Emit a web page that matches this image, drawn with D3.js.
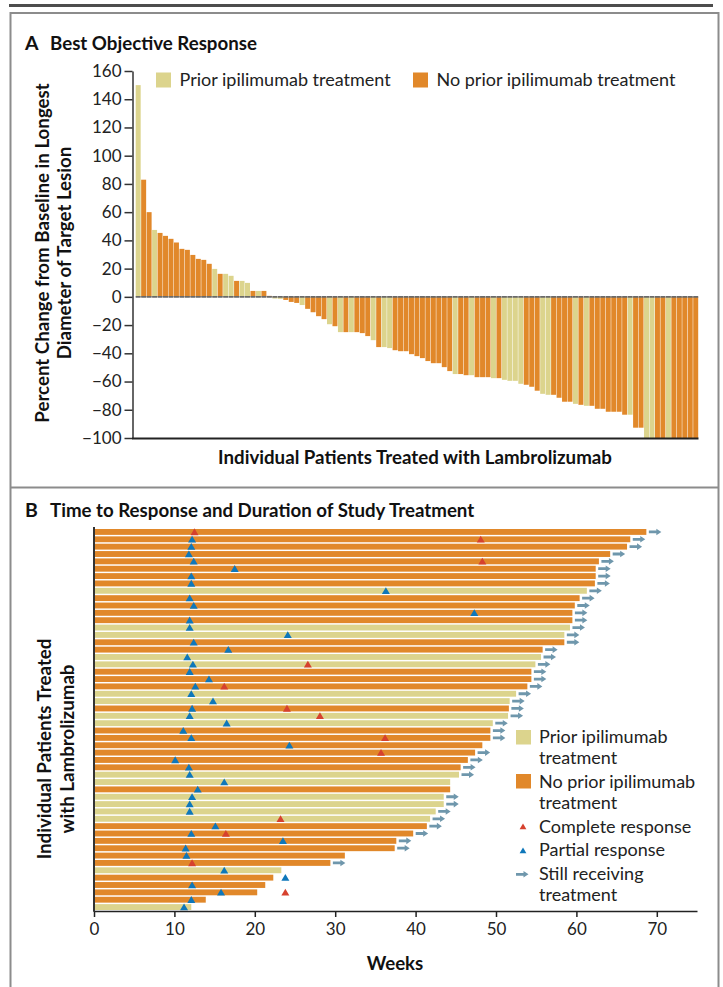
<!DOCTYPE html>
<html><head><meta charset="utf-8">
<script src="https://cdn.jsdelivr.net/npm/d3@7"></script>
<style>
body{margin:0;background:#fff;}
svg{display:block;font-family:Lato,'Open Sans',sans-serif;}
</style></head><body>
<svg id="c" width="723" height="987"></svg>
<script>
// ---------- Panel A data ----------
const responseValues = [150,83,60,47.4,45.3,43.2,41.1,38.5,34,33.3,
 29.7,26.9,26.2,23.4,19.8,16.3,16.3,14.9,11.3,11.3,
 9.9,4.2,4.2,4.2,0.7,-1.2,-1.4,-2.2,-3.6,-4.3,
 -5.8,-8.5,-10.9,-13.7,-15.8,-19.4,-20.8,-25,-25,-25,
 -25,-25.7,-27.8,-30.7,-35.6,-35.6,-36.3,-37.8,-38.5,-38.5,
 -40.6,-42,-43.4,-45.5,-47,-47,-49.8,-52.6,-54.7,-54.7,
 -55.5,-55.5,-56.9,-56.9,-56.9,-57.6,-57.6,-58.8,-59.5,-59.5,
 -61.6,-62.3,-63.7,-66.5,-68.7,-69.4,-69.4,-71.5,-74.3,-74.3,
 -75.8,-76.5,-77.2,-77.2,-79.3,-79.3,-81.4,-81.4,-81.4,-83.5,
 -83.5,-92.7,-92.7,-100,-100,-100,-100,-100,-100,-100,
 -100,-100,-100];
// Y = prior ipilimumab, O = no prior ipilimumab
const responseGroup = ("YOOYOOOOOO"+"OOOOYOYYOY"+"YOYOOYYOOO"+"YOOOOYOYOY"+"OOOYOYYOOO"+
  "OOOOOOOOYO"+"OYOOOYOYYY"+"YOOOYYOOOO"+"YOYOOOOOOO"+"YOOYYOOYOO"+"OOO").split("");
const yTicksA = [-100,-80,-60,-40,-20,0,20,40,60,80,100,120,140,160];

// ---------- Panel B data ----------
const treatmentWeeks = [68.7,66.7,66.3,64.2,62.8,62.4,62.4,62.3,61.3,60.4,
 59.8,59.5,59.5,59.2,58.5,58.5,55.8,55.6,54.9,54.4,
 54.4,53.9,52.5,51.7,51.6,51.5,49.6,49.3,49.3,48.3,
 47.4,46.5,45.6,45.4,44.3,44.3,43.5,43.5,42.5,41.8,
 41.4,39.7,37.6,37.4,31.2,29.4,23.3,22.3,21.3,20.3,
 13.9,12.1];
const patientGroup = ("OOOOOOOOYO"+"OOOYYOOYYO"+"OOYYOYYOOO"+"OOOYYOYYYY"+"OOOOOOYOOO"+"OY").split("");
const stillOnTreatment = ("1111111111"+"1111111111"+"1111111110"+"1111001111"+"1111010000"+"00").split("").map(Number);
const partialResponse = [null,12.2,12.1,11.8,12.4,17.5,12.1,12.1,36.3,11.9,
 12.4,47.3,11.9,11.9,24.1,12.4,16.7,11.6,12.3,11.9,
 14.3,12.6,12.1,14.8,12.2,11.9,16.5,11.1,12.1,24.3,
 null,10.1,11.8,11.9,16.2,12.9,12.2,11.9,11.9,null,
 15.1,12.1,23.5,11.4,11.5,null,16.2,23.8,12.2,15.8,
 12.1,11.2];
const completeResponse = [12.5,48.1,null,null,48.3,null,null,null,null,null,
 null,null,null,null,null,null,null,null,26.6,null,
 null,16.2,null,null,24.0,28.1,null,null,36.2,null,
 35.7,null,null,null,null,null,null,null,null,23.2,
 null,16.4,null,null,null,12.2,null,null,null,23.8,
 null,null];
const xTicksB = [0,10,20,30,40,50,60,70];

// ---------- styles ----------
const ORANGE = "#E1882A", YELLOW = "#DCD48D", RED = "#D6412E", BLUE = "#0E77BA", ARROW = "#6F97AC";
const FONT = "Lato,'Open Sans',sans-serif";
const BOLD = 18.7, REG = 18, TICK = 17;
const colorOf = g => g === "Y" ? YELLOW : ORANGE;
const svg = d3.select("#c");
const fmt = d => d < 0 ? "\u2212" + Math.abs(d) : String(d);

// frames
svg.append("line").attr("x1",9).attr("x2",713).attr("y1",5.5).attr("y2",5.5).attr("stroke","#4d4d4d").attr("stroke-width",3);
svg.append("rect").attr("x",10.5).attr("y",13).attr("width",708).attr("height",1000)
  .attr("fill","none").attr("stroke","#8c8c8c").attr("stroke-width",2);
svg.append("line").attr("x1",10.5).attr("x2",718.5).attr("y1",487.5).attr("y2",487.5).attr("stroke","#8c8c8c").attr("stroke-width",2);

// ---------- Panel A ----------
const title = (y, letter, text) => {
  svg.append("text").attr("x",25).attr("y",y).attr("font-size",19.5).attr("font-weight",700).attr("fill","#111").text(letter);
  svg.append("text").attr("x",50).attr("y",y).attr("font-size",BOLD).attr("font-weight",700).attr("fill","#111").text(text);
};
title(49.5, "A", "Best Objective Response");

const yA = d3.scaleLinear().domain([-100,160]).range([438,71]);
const xA = d3.scaleBand().domain(d3.range(responseValues.length)).range([135.7,698.2]).paddingInner(0.09);

const gA = svg.append("g");
gA.selectAll("rect.bar").data(responseValues).join("rect")
  .attr("x",(d,i)=>xA(i)).attr("width",xA.bandwidth())
  .attr("y",d=>yA(Math.max(0,d))).attr("height",d=>Math.abs(yA(d)-yA(0)))
  .attr("fill",(d,i)=>colorOf(responseGroup[i]));
// zero line (broken at bar gaps)
gA.append("line").attr("x1",xA(0)).attr("x2",xA(responseValues.length-1)+xA.bandwidth())
  .attr("y1",yA(0)).attr("y2",yA(0)).attr("stroke","#6a6a6a").attr("stroke-width",1.6)
  .attr("stroke-dasharray",`${xA.bandwidth()},${xA.step()-xA.bandwidth()}`);

const axA = svg.append("g").attr("transform","translate(132.5,0)")
  .call(d3.axisLeft(yA).tickValues(yTicksA).tickSize(8).tickSizeOuter(0).tickPadding(3).tickFormat(fmt));
axA.select(".domain").attr("stroke","#333").attr("stroke-width",1.5);
axA.selectAll(".tick line").attr("stroke","#333").attr("stroke-width",1.5);
axA.selectAll("text").attr("font-size",TICK).attr("font-family",FONT).attr("fill","#222");
svg.append("line").attr("x1",132).attr("x2",698.5).attr("y1",438.5).attr("y2",438.5).attr("stroke","#222").attr("stroke-width",2);

svg.append("text").attr("x",415).attr("y",457).attr("dy","0.35em").attr("text-anchor","middle")
  .attr("font-size",BOLD).attr("font-weight",700).attr("fill","#111").text("Individual Patients Treated with Lambrolizumab");
const yLab = (cx, cy, text) => svg.append("text").attr("transform",`translate(${cx},${cy}) rotate(-90)`)
  .attr("dy","0.35em").attr("text-anchor","middle").attr("font-size",BOLD).attr("font-weight",700).attr("fill","#111").text(text);
yLab(42,253,"Percent Change from Baseline in Longest");
yLab(64,253,"Diameter of Target Lesion");

// legend A
const legA = [{c:YELLOW,t:"Prior ipilimumab treatment",x:156},{c:ORANGE,t:"No prior ipilimumab treatment",x:413}];
legA.forEach(l=>{
  svg.append("rect").attr("x",l.x).attr("y",72.5).attr("width",15).attr("height",15).attr("fill",l.c);
  svg.append("text").attr("x",l.x+23.5).attr("y",80).attr("dy","0.35em").attr("font-size",REG).attr("fill","#222").text(l.t);
});

// ---------- Panel B ----------
title(517, "B", "Time to Response and Duration of Study Treatment");
const xB = d3.scaleLinear().domain([0,75]).range([94,697]);
const yB = d3.scaleBand().domain(d3.range(treatmentWeeks.length)).range([529,910]).paddingInner(0.2);
const cy = i => yB(i) + yB.bandwidth()/2;

const gB = svg.append("g");
gB.selectAll("rect").data(treatmentWeeks).join("rect")
  .attr("x",xB(0)).attr("y",(d,i)=>yB(i)).attr("width",d=>xB(d)-xB(0)).attr("height",yB.bandwidth())
  .attr("fill",(d,i)=>colorOf(patientGroup[i]));

const arrowPath = (x,y) => `M${x},${y-1.4}H${x+7.5}V${y-3.3}L${x+12.5},${y}L${x+7.5},${y+3.3}V${y+1.4}H${x}Z`;
gB.selectAll("path.arrow").data(treatmentWeeks.map((d,i)=>({d,i})).filter(o=>stillOnTreatment[o.i]))
  .join("path").attr("class","arrow").attr("d",o=>arrowPath(xB(o.d)+2.5, cy(o.i))).attr("fill",ARROW);

const tri = (x,y,s) => `M${x},${y-3.6*s}L${x+4*s},${y+3.2*s}L${x-4*s},${y+3.2*s}Z`;
gB.selectAll("path.pr").data(partialResponse.map((d,i)=>({d,i})).filter(o=>o.d!==null))
  .join("path").attr("class","pr").attr("d",o=>tri(xB(o.d),cy(o.i),1)).attr("fill",BLUE);
gB.selectAll("path.cr").data(completeResponse.map((d,i)=>({d,i})).filter(o=>o.d!==null))
  .join("path").attr("class","cr").attr("d",o=>tri(xB(o.d),cy(o.i),1)).attr("fill",RED);

const axB = svg.append("g").attr("transform","translate(0,911)")
  .call(d3.axisBottom(xB).tickValues(xTicksB).tickSize(6).tickSizeOuter(0).tickPadding(6));
axB.select(".domain").attr("stroke","#222").attr("stroke-width",1.5);
axB.selectAll(".tick line").attr("stroke","#222").attr("stroke-width",1.5);
axB.selectAll("text").attr("font-size",TICK).attr("font-family",FONT).attr("fill","#222");
svg.append("line").attr("x1",94).attr("x2",94).attr("y1",527).attr("y2",911.7).attr("stroke","#333").attr("stroke-width",2);

svg.append("text").attr("x",395).attr("y",963).attr("dy","0.35em").attr("text-anchor","middle")
  .attr("font-size",BOLD).attr("font-weight",700).attr("fill","#111").text("Weeks");
yLab(44,749,"Individual Patients Treated");
yLab(67,749,"with Lambrolizumab");

// legend B
const legB = svg.append("g");
legB.append("rect").attr("x",516).attr("y",730).attr("width",15).attr("height",14.5).attr("fill",YELLOW);
legB.append("rect").attr("x",516).attr("y",774).attr("width",15).attr("height",14.5).attr("fill",ORANGE);
legB.append("path").attr("d",tri(523,826.5,0.85)).attr("fill",RED);
legB.append("path").attr("d",tri(523,850.5,0.85)).attr("fill",BLUE);
legB.append("path").attr("d",arrowPath(516,874.3)).attr("fill",ARROW);
const legBText = [["Prior ipilimumab",742.5],["treatment",763.5],["No prior ipilimumab",787.5],["treatment",808.5],
  ["Complete response",832.5],["Partial response",856],["Still receiving",879.5],["treatment",900.5]];
legBText.forEach(([t,y])=>legB.append("text").attr("x",539).attr("y",y).attr("font-size",REG).attr("fill","#222").text(t));
</script>
</body></html>
